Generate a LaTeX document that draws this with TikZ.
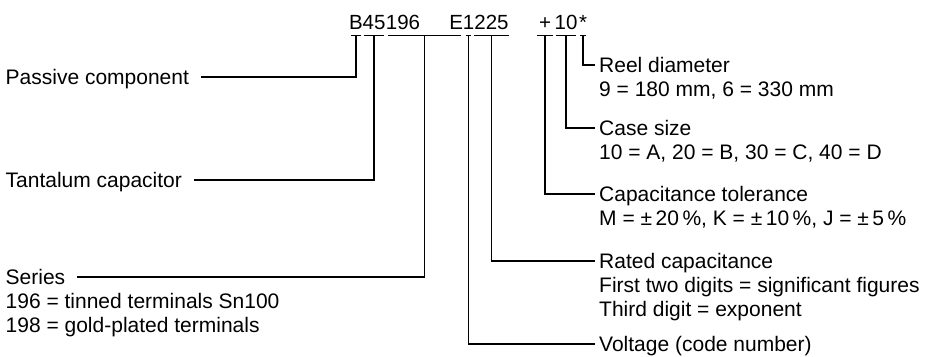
\documentclass[tikz,border=0pt]{standalone}
\usepackage{fontspec}
\setmainfont{Liberation Sans}
\usepackage{tikz}
\tikzstyle{code_part}=[inner xsep=-2pt, inner ysep=6pt, text height=14.7pt, text depth=0pt, anchor=base, font=\fontsize{20.5}{24}\selectfont]
\tikzstyle{label_text}=[inner ysep=0pt, font=\fontsize{21}{24}\selectfont]
\tikzstyle{label_left}=[label_text, inner xsep=12pt]
\tikzstyle{label_right}=[label_text, inner xsep=4pt]
\tikzstyle{title}=[text height=15pt, text depth=0pt, anchor=west]
\tikzstyle{leader}=[draw=black, line width=1.3pt]

\begin{document}
\begin{tikzpicture}[x=1pt, y=-1pt]
\useasboundingbox (0,0) rectangle (925,356);
\node[code_part] (cod0) at (356,29){B};
\node[code_part] (cod1) at (374,29){45};
\node[code_part] (cod2) at (424.5,29){196\hspace{29.4pt}E};
\node[code_part, inner xsep=-3pt] (cod3) at (468.5,29){1};
\node[code_part, inner xsep=0pt] (cod4) at (491.5,29){225};
\node[code_part, inner xsep=1.5pt] (cod5) at (545,29){+};
\node[code_part] (cod6) at (566,29){10};
\node[code_part, inner xsep=-1.5pt] (cod7) at (583,29){*};
\node[label_left, title] (lbl0) at (-6.5,77){Passive component};
\node[label_left, title] (lbl1) at (-6.5,180){Tantalum capacitor};
\node[label_left, title] (lbl2) at (-6.5,277){Series};
\node[label_left, anchor=base west] (lbl2a) at ([yshift=-24pt]lbl2.base west){196 = tinned terminals Sn100};
\node[label_left, anchor=base west] (lbl2b) at ([yshift=-48pt]lbl2.base west){198 = gold-plated terminals};
\node[label_right, title] (lbl3) at (595,65){Reel diameter};
\node[label_right, anchor=base west] (lbl3a) at ([yshift=-24pt]lbl3.base west){9 = 180 mm, 6 = 330 mm};
\node[label_right, title] (lbl4) at (595,128){Case size};
\node[label_right, anchor=base west] (lbl4a) at ([yshift=-24pt]lbl4.base west){10 = A, 20 = B, 30 = C, 40 = D};
\node[label_right, title] (lbl5) at (595,194){Capacitance tolerance};
\node[label_right, anchor=base west] (lbl5a) at ([yshift=-24pt]lbl5.base west){M = ±\,20\,\%, K = ±\,10\,\%, J = ±\,5\,\%};
\node[label_right, title] (lbl6) at (595,261){Rated capacitance};
\node[label_right, anchor=base west] (lbl6a) at ([yshift=-24pt]lbl6.base west){First two digits = significant figures};
\node[label_right, anchor=base west] (lbl6b) at ([yshift=-48pt]lbl6.base west){Third digit = exponent};
\node[label_right, title] (lbl7) at (595,344){Voltage (code number)};
\draw[leader] (cod0.south west) -- (cod0.south east) (cod0.south) |- (lbl0.east);
\draw[leader] (cod1.south west) -- (cod1.south east) (cod1.south) |- (lbl1.east);
\draw[leader] (cod2.south west) -- (cod2.south east) (cod2.south) |- (lbl2.east);
\draw[leader] (cod3.south west) -- (cod3.south east) (cod3.south) |- (lbl7.west);
\draw[leader] (cod4.south west) -- (cod4.south east) (cod4.south) |- (lbl6.west);
\draw[leader] (cod5.south west) -- (cod5.south east) (cod5.south) |- (lbl5.west);
\draw[leader] (cod6.south west) -- (cod6.south east) (cod6.south) |- (lbl4.west);
\draw[leader] (cod7.south west) -- (cod7.south east) (cod7.south) |- (lbl3.west);
\end{tikzpicture}
\end{document}
